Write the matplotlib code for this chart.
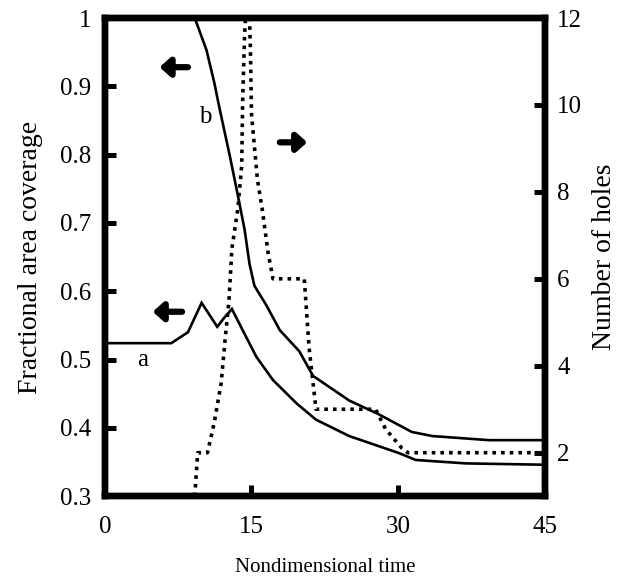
import matplotlib
matplotlib.use("Agg")
import matplotlib.pyplot as plt
from matplotlib.ticker import FuncFormatter

plt.rcParams["font.family"] = ["Liberation Serif", "DejaVu Serif"]

# curve a: lower solid line (fractional area coverage)
curve_a_t = [0, 6.8, 8.5, 9.9, 11.5, 12.2, 13.0, 14.1, 15.5, 17.2, 19.6, 21.6, 25.0, 30.1, 31.8, 36.9, 45]
curve_a_y = [0.524, 0.524, 0.54, 0.583, 0.548, 0.561, 0.574, 0.543, 0.504, 0.47, 0.436, 0.412,
             0.388, 0.363, 0.353, 0.348, 0.346]

# curve b: upper solid line (fractional area coverage)
curve_b_t = [9.2, 10.4, 11.2, 11.7, 12.8, 13.5, 14.3, 14.8, 15.3, 16.5, 17.9, 19.9, 21.3, 25.0, 28.0,
             31.4, 33.5, 39.3, 45]
curve_b_y = [1.0, 0.953, 0.905, 0.87, 0.797, 0.748, 0.69, 0.64, 0.608, 0.58, 0.543, 0.512, 0.476,
             0.44, 0.42, 0.394, 0.388, 0.382, 0.382]

# number of holes (dotted, right axis)
holes_t = [9.2, 9.5, 10.5, 11.2, 11.9, 12.3, 12.7, 13.0, 13.6, 14.0, 14.1, 14.3, 14.4, 14.8,
           14.9, 15.0, 15.6, 16.1, 16.7, 17.2, 20.4, 20.9, 21.6, 27.7, 28.7, 30.4, 31.0, 45]
holes_n = [1.0, 2.0, 2.0, 2.7, 3.6, 4.6, 5.5, 6.7, 7.6, 8.6, 10.1, 11.65, 12.0, 12.0,
           11.2, 9.8, 8.3, 7.6, 6.6, 6.0, 6.0, 4.4, 3.0, 3.0, 2.55, 2.1, 2.0, 2.0]

x_ticks = [0, 15, 30, 45]
left_ticks = [0.3, 0.4, 0.5, 0.6, 0.7, 0.8, 0.9, 1.0]
right_ticks = [2, 4, 6, 8, 10, 12]

fig = plt.figure(figsize=(6.24, 5.81), dpi=100)
ax = fig.add_axes([0.168, 0.146, 0.705, 0.823])
ax2 = ax.twinx()

ax.plot(curve_a_t, curve_a_y, color="black", lw=1.9, solid_joinstyle="miter")
ax.plot(curve_b_t, curve_b_y, color="black", lw=1.9, solid_joinstyle="miter")
ax2.plot(holes_t, holes_n, color="black", lw=2.6, linestyle=(0, (1, 1.4)))

ax.set_xlim(0, 45)
ax.set_ylim(0.3, 1.0)
ax2.set_ylim(1, 12)

ax.set_xticks(x_ticks)
ax.set_yticks(left_ticks)
ax2.set_yticks(right_ticks)
ax.yaxis.set_major_formatter(FuncFormatter(lambda v, p: "1" if abs(v - 1) < 1e-9 else f"{v:.1f}"))

for a in (ax, ax2):
    for s in a.spines.values():
        s.set_linewidth(4.6)
ax.tick_params(axis="both", direction="in", length=8, width=3.6, labelsize=18, pad=10)
ax.tick_params(axis="x", pad=14)
ax2.tick_params(axis="y", direction="in", length=8, width=3.6, labelsize=18, pad=9)

ax.set_xlabel("Nondimensional time", fontsize=15, labelpad=15)
ax.set_ylabel("Fractional area coverage", fontsize=20, labelpad=12)
ax2.set_ylabel("Number of holes", fontsize=20, labelpad=7)

arrow_kw = dict(arrowstyle="-|>,head_length=0.5,head_width=0.45", lw=4.5, color="black",
                shrinkA=0, shrinkB=0, mutation_scale=12)
ax.annotate("", xy=(5.6, 0.928), xytext=(8.5, 0.928), arrowprops=arrow_kw)
ax.annotate("", xy=(20.7, 0.818), xytext=(17.9, 0.818), arrowprops=arrow_kw)
ax.annotate("", xy=(4.9, 0.570), xytext=(7.9, 0.570), arrowprops=arrow_kw)

ax.text(3.9, 0.50, "a", fontsize=18, ha="center", va="center")
ax.text(10.3, 0.855, "b", fontsize=18, ha="center", va="center")

fig.savefig("out.png", dpi=100)
